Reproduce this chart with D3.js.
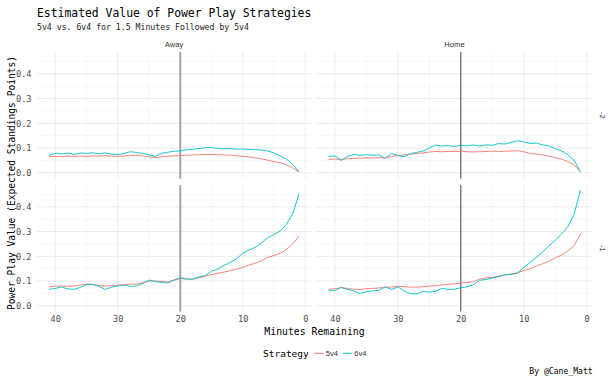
<!DOCTYPE html>
<html><head><meta charset="utf-8">
<script src="https://cdn.jsdelivr.net/npm/d3@7/dist/d3.min.js"></script>
<style>body{margin:0;background:#fff}svg{display:block}</style>
</head><body>
<svg id="c" width="615" height="380"></svg>
<script>
const minutes = [41,40,39,38,37,36,35,34,33,32,31,30,29,28,27,26,25,24,23,22,21,20,19,18,17,16,15,14,13,12,11,10,9,8,7,6,5,4,3,2,1];
const venues = ["Away","Home"];
const rows = ["-2","-1"];
const strategies = ["5v4","6v4"];
const xTicks = [40,30,20,10,0];
const yTicks = [0,0.1,0.2,0.3,0.4];

// Away, goal diff -2
const away_m2_5v4 = [0.064,0.066,0.065,0.067,0.066,0.067,0.066,0.068,0.067,0.069,0.067,0.066,0.068,0.070,0.071,0.068,0.065,0.061,0.065,0.067,0.068,0.069,0.071,0.072,0.073,0.074,0.074,0.073,0.072,0.071,0.069,0.066,0.064,0.060,0.056,0.051,0.045,0.040,0.032,0.020,0.002];
const away_m2_6v4 = [0.069,0.079,0.076,0.080,0.074,0.080,0.078,0.081,0.076,0.080,0.075,0.073,0.078,0.085,0.082,0.078,0.072,0.066,0.078,0.083,0.087,0.088,0.093,0.095,0.098,0.101,0.102,0.098,0.097,0.098,0.095,0.096,0.094,0.093,0.092,0.088,0.080,0.068,0.055,0.034,0.003];
// Home, goal diff -2
const home_m2_5v4 = [0.054,0.055,0.054,0.057,0.058,0.059,0.060,0.060,0.061,0.060,0.066,0.069,0.072,0.075,0.078,0.080,0.084,0.086,0.085,0.086,0.086,0.087,0.085,0.084,0.085,0.086,0.087,0.086,0.087,0.088,0.089,0.085,0.078,0.075,0.072,0.067,0.061,0.055,0.046,0.032,0.004];
const home_m2_6v4 = [0.066,0.068,0.050,0.065,0.074,0.070,0.073,0.071,0.072,0.058,0.078,0.070,0.065,0.078,0.082,0.088,0.100,0.112,0.108,0.110,0.106,0.111,0.109,0.112,0.108,0.113,0.111,0.118,0.116,0.123,0.129,0.125,0.118,0.120,0.113,0.108,0.098,0.088,0.073,0.050,0.004];
// Away, goal diff -1
const away_m1_5v4 = [0.077,0.079,0.080,0.078,0.080,0.084,0.087,0.086,0.082,0.079,0.082,0.083,0.085,0.087,0.088,0.093,0.099,0.100,0.098,0.097,0.104,0.110,0.108,0.108,0.113,0.120,0.126,0.131,0.136,0.142,0.148,0.155,0.165,0.172,0.182,0.196,0.203,0.212,0.228,0.250,0.282];
const away_m1_6v4 = [0.066,0.070,0.076,0.068,0.066,0.074,0.086,0.087,0.078,0.066,0.075,0.080,0.083,0.078,0.080,0.090,0.104,0.098,0.094,0.092,0.103,0.113,0.108,0.107,0.117,0.122,0.140,0.148,0.163,0.175,0.190,0.212,0.225,0.236,0.255,0.275,0.288,0.302,0.330,0.372,0.453];
// Home, goal diff -1
const home_m1_5v4 = [0.066,0.069,0.073,0.070,0.067,0.066,0.069,0.070,0.072,0.074,0.076,0.079,0.077,0.075,0.075,0.077,0.079,0.081,0.084,0.087,0.089,0.092,0.094,0.097,0.108,0.112,0.115,0.118,0.125,0.128,0.133,0.142,0.150,0.160,0.170,0.180,0.193,0.205,0.222,0.243,0.290];
const home_m1_6v4 = [0.060,0.062,0.074,0.066,0.060,0.050,0.057,0.060,0.062,0.077,0.066,0.076,0.060,0.049,0.047,0.058,0.055,0.058,0.070,0.066,0.067,0.073,0.076,0.085,0.103,0.106,0.112,0.118,0.125,0.127,0.132,0.155,0.175,0.195,0.218,0.242,0.265,0.290,0.320,0.370,0.467];

const seriesByPanel = {
  "Away|-2": [away_m2_5v4, away_m2_6v4],
  "Home|-2": [home_m2_5v4, home_m2_6v4],
  "Away|-1": [away_m1_5v4, away_m1_6v4],
  "Home|-1": [home_m1_5v4, home_m1_6v4]
};

const colors = {"5v4":"#F8766D","6v4":"#00BFC4"};
const mono = "'DejaVu Sans Mono', 'Liberation Mono', monospace";
const sans = "'Liberation Sans', Arial, sans-serif";

const svg = d3.select("#c");
const colX = {Away:[36.5,311.5], Home:[316,593]};
const rowY = {"-2":[178.5,52], "-1":[311.5,185]};
const xDomain = [43,-1];
const yDomain = [-0.0233,0.4883];

// title etc
svg.append("text").attr("x",37).attr("y",17).attr("font-family",mono).attr("font-size",11.4).attr("fill","#000").text("Estimated Value of Power Play Strategies");
svg.append("text").attr("x",37).attr("y",29.5).attr("font-family",mono).attr("font-size",8.2).attr("fill","#222").text("5v4 vs. 6v4 for 1.5 Minutes Followed by 5v4");

venues.forEach(v=>{
  rows.forEach(r=>{
    const x = d3.scaleLinear().domain(xDomain).range(colX[v]);
    const y = d3.scaleLinear().domain(yDomain).range(rowY[r]);
    const g = svg.append("g");
    const [x0,x1] = colX[v], [yb,yt] = rowY[r];
    // minor grid
    [0.05,0.15,0.25,0.35,0.45].forEach(t=>{
      g.append("line").attr("x1",x0).attr("x2",x1).attr("y1",y(t)).attr("y2",y(t)).attr("stroke","#F2F2F2").attr("stroke-width",0.6);
    });
    [35,25,15,5].forEach(t=>{
      g.append("line").attr("y1",yb).attr("y2",yt).attr("x1",x(t)).attr("x2",x(t)).attr("stroke","#F2F2F2").attr("stroke-width",0.6);
    });
    yTicks.forEach(t=>{
      g.append("line").attr("x1",x0).attr("x2",x1).attr("y1",y(t)).attr("y2",y(t)).attr("stroke","#EBEBEB").attr("stroke-width",1);
    });
    xTicks.forEach(t=>{
      g.append("line").attr("y1",yb).attr("y2",yt).attr("x1",x(t)).attr("x2",x(t)).attr("stroke","#EBEBEB").attr("stroke-width",1);
    });
    // vertical reference line at 20
    g.append("line").attr("y1",yb).attr("y2",yt).attr("x1",x(20)).attr("x2",x(20))
      .attr("stroke", v==="Away" ? "#A6A6A6" : "#555").attr("stroke-width", v==="Away" ? 2 : 1.1);
    const line = d3.line().x((d,i)=>x(minutes[i])).y(d=>y(d));
    seriesByPanel[v+"|"+r].forEach((vals,k)=>{
      g.append("path").datum(vals).attr("d",line).attr("fill","none")
        .attr("stroke",colors[strategies[k]]).attr("stroke-width",0.9);
    });
    // y axis labels on left column
    if(v==="Away"){
      const ya = svg.append("g").attr("transform",`translate(${x0-2},0)`)
        .call(d3.axisLeft(y).tickValues(yTicks).tickFormat(d3.format(".1f")).tickSize(0).tickPadding(3));
      ya.select(".domain").remove();
      ya.selectAll("text").attr("font-family",mono).attr("font-size",8.6).attr("fill","#4D4D4D");
    }
    if(r==="-1"){
      const xa = svg.append("g").attr("transform",`translate(0,${yb})`)
        .call(d3.axisBottom(x).tickValues(xTicks).tickFormat(d3.format("d")).tickSize(0).tickPadding(4));
      xa.select(".domain").remove();
      xa.selectAll("text").attr("font-family",mono).attr("font-size",8.6).attr("fill","#4D4D4D");
    }
  });
  const xc = (colX[v][0]+colX[v][1])/2;
  svg.append("text").attr("x",xc).attr("y",46.5).attr("text-anchor","middle").attr("font-family",sans).attr("font-size",7.6).attr("fill","#333").text(v);
});
rows.forEach(r=>{
  const yc = (rowY[r][0]+rowY[r][1])/2;
  svg.append("text").attr("transform",`translate(600,${yc}) rotate(90)`).attr("text-anchor","middle").attr("font-family",sans).attr("font-size",7.6).attr("fill","#333").text(r);
});

// axis titles
svg.append("text").attr("transform","translate(15,183) rotate(-90)").attr("text-anchor","middle").attr("font-family",mono).attr("font-size",9.6).attr("fill","#000").text("Power Play Value (Expected Standings Points)");
svg.append("text").attr("x",314.5).attr("y",334.5).attr("text-anchor","middle").attr("font-family",mono).attr("font-size",9.8).attr("fill","#000").text("Minutes Remaining");

// legend
svg.append("text").attr("x",263).attr("y",356.5).attr("font-family",mono).attr("font-size",9.5).attr("fill","#000").text("Strategy");
const legX = [314.3, 342.7];
strategies.forEach((s,i)=>{
  svg.append("line").attr("x1",legX[i]).attr("x2",legX[i]+9).attr("y1",353.3).attr("y2",353.3).attr("stroke",colors[s]).attr("stroke-width",1);
  svg.append("text").attr("x",legX[i]+11.5).attr("y",356).attr("font-family",sans).attr("font-size",7.6).attr("fill","#333").text(s);
});
svg.append("text").attr("x",592.7).attr("y",373.5).attr("text-anchor","end").attr("font-family",mono).attr("font-size",8.1).attr("fill","#000").text("By @Cane_Matt");
</script>
</body></html>
